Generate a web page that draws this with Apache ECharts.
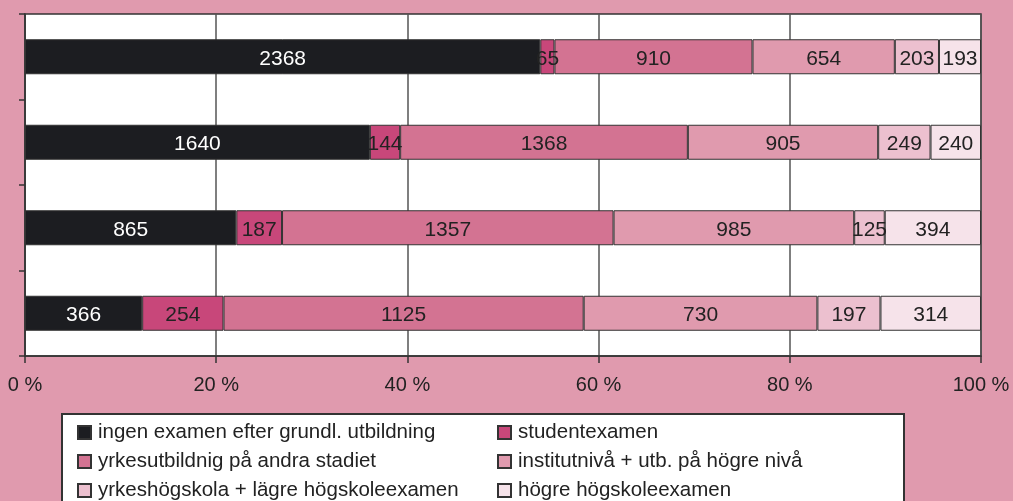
<!DOCTYPE html>
<html>
<head>
<meta charset="utf-8">
<script src="https://cdn.jsdelivr.net/npm/echarts@6/dist/echarts.min.js"></script>
<style>
  html, body { margin: 0; padding: 0; background: #e09aae; }
  #chart { width: 1013px; height: 501px; }
</style>
</head>
<body>
<div id="chart"></div>
<script>
// rows top to bottom
const rows = ['r1', 'r2', 'r3', 'r4'];
const seriesNames = [
    'ingen examen efter grundl. utbildning',
    'studentexamen',
    'yrkesutbildnig på andra stadiet',
    'institutnivå + utb. på högre nivå',
    'yrkeshögskola + lägre högskoleexamen',
    'högre högskoleexamen'
];
const ingenExamen   = [2368, 1640, 865, 366];
const studentexamen = [65, 144, 187, 254];
const yrkesutb      = [910, 1368, 1357, 1125];
const institutniva  = [654, 905, 985, 730];
const yrkeshogskola = [203, 249, 125, 197];
const hogreExamen   = [193, 240, 394, 314];
const xTicks = [0, 20, 40, 60, 80, 100];

const colors = ['#1c1d21', '#c8477a', '#d37392', '#e09aae', '#ecc0cf', '#f6e3ea'];
const raw = [ingenExamen, studentexamen, yrkesutb, institutniva, yrkeshogskola, hogreExamen];
const totals = rows.map((r, i) => raw.reduce((s, arr) => s + arr[i], 0));

const font = 'Liberation Sans, Arial, sans-serif';

const series = raw.map((arr, k) => ({
    name: seriesNames[k],
    type: 'bar',
    stack: 'all',
    barWidth: 35,
    itemStyle: {
        color: colors[k],
        borderColor: '#333',
        borderWidth: 1
    },
    label: {
        show: true,
        position: 'inside',
        fontFamily: font,
        fontSize: 21,
        color: k === 0 ? '#fff' : '#222',
        offset: [0, 2],
        formatter: p => arr[p.dataIndex]
    },
    data: arr.map((v, i) => v / totals[i] * 100)
}));

// one legend per item so the two columns line up
const legends = seriesNames.map((n, i) => ({
    left: i % 2 === 0 ? 77 : 497,
    top: 422 + Math.floor(i / 2) * 29,
    padding: 0,
    icon: 'rect',
    itemWidth: 13,
    itemHeight: 13,
    itemGap: 6,
    z: 5,
    textStyle: { fontFamily: font, fontSize: 20.5, color: '#222', padding: [0, 0, 0, 2] },
    data: [n]
}));

const myChart = echarts.init(document.getElementById('chart'));
myChart.setOption({
    backgroundColor: '#e09aae',
    animation: false,
    grid: {
        left: 25,
        right: 32,
        top: 14,
        bottom: 145,
        show: true,
        backgroundColor: '#fff',
        borderColor: '#333',
        borderWidth: 1.5
    },
    xAxis: {
        type: 'value',
        min: 0,
        max: 100,
        interval: 20,
        axisLine: { show: true, lineStyle: { color: '#333', width: 1.5 } },
        axisTick: { show: true, length: 7, lineStyle: { color: '#333', width: 1.5 } },
        splitLine: { show: true, lineStyle: { color: '#555', width: 1.5 } },
        axisLabel: {
            margin: 19,
            fontFamily: font,
            fontSize: 20,
            color: '#222',
            formatter: v => xTicks.includes(v) ? v + ' %' : ''
        }
    },
    yAxis: {
        type: 'category',
        data: rows,
        inverse: true,
        axisLine: { show: true, lineStyle: { color: '#333', width: 1.5 } },
        axisTick: { show: true, length: 6, lineStyle: { color: '#333', width: 1.5 } },
        axisLabel: { show: false }
    },
    graphic: [{
        type: 'rect',
        left: 61,
        top: 413,
        shape: { width: 842, height: 100 },
        style: { fill: '#fff', stroke: '#333', lineWidth: 2 },
        z: 0
    }],
    legend: legends,
    series: series
});
</script>
</body>
</html>
